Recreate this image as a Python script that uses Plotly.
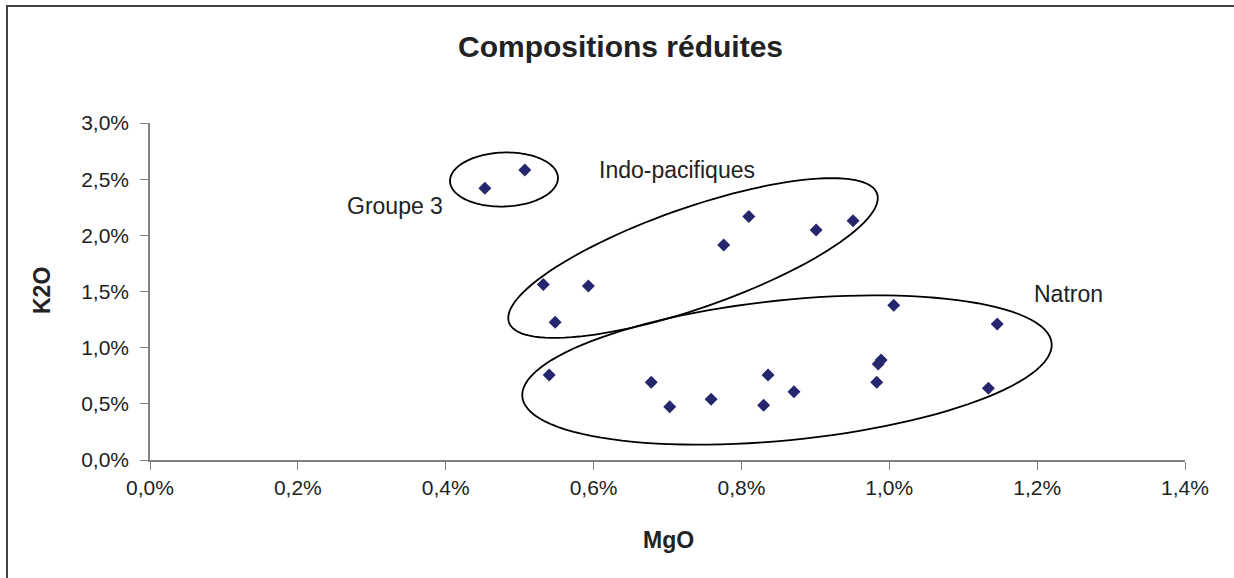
import numpy as np
import plotly.graph_objects as go

# Data (fractions; MgO vs K2O)
mgo = [0.00453, 0.00507, 0.00532, 0.00593, 0.00548, 0.00776, 0.00810, 0.00901, 0.00951,
       0.01006, 0.01146, 0.00540, 0.00678, 0.00703, 0.00759, 0.00836, 0.00830, 0.00871,
       0.00989, 0.00985, 0.00983, 0.01134]
k2o = [0.02419, 0.02582, 0.01562, 0.01549, 0.01227, 0.01914, 0.02168, 0.02048, 0.02130,
       0.01377, 0.01211, 0.00757, 0.00692, 0.00474, 0.00540, 0.00757, 0.00487, 0.00608,
       0.00890, 0.00855, 0.00692, 0.00638]
x_ticks = [0.0, 0.002, 0.004, 0.006, 0.008, 0.010, 0.012, 0.014]
y_ticks = [0.0, 0.005, 0.010, 0.015, 0.020, 0.025, 0.030]
group_labels = ["Groupe 3", "Indo-pacifiques", "Natron"]

W, H = 1234, 578
ML, MR, MT, MB = 150, 49, 123, 118
PW, PH = W - ML - MR, H - MT - MB
XR, YR = 0.014, 0.030
sx, sy = PW / XR, PH / YR  # px per unit

def ellipse_path(cx, cy, a, b, ang_deg, n=120):
    th = np.radians(ang_deg)
    t = np.linspace(0, 2 * np.pi, n)
    dx = a * np.cos(t) * np.cos(th) + b * np.sin(t) * np.sin(th)
    dy_up = a * np.cos(t) * np.sin(th) - b * np.sin(t) * np.cos(th)
    xs = cx + dx / sx
    ys = cy + dy_up / sy
    p = "M %f,%f " % (xs[0], ys[0]) + " ".join("L %f,%f" % (x, y) for x, y in zip(xs[1:], ys[1:])) + " Z"
    return p

# ellipse: center (data), semi-axes (px), angle (deg)
ellipses = [
    (0.004788, 0.02497, 54, 27, 2),
    (0.007345, 0.01798, 195, 50, 19.3),
    (0.008616, 0.00801, 266, 70, 5.8),
]

FONT = "Liberation Sans, Arial"

fig = go.Figure()
fig.add_trace(go.Scatter(
    x=mgo, y=k2o, mode="markers",
    marker=dict(symbol="diamond", size=10, color="#26266e"),
    showlegend=False, hoverinfo="x+y"))

for (cx, cy, a, b, ang) in ellipses:
    fig.add_shape(type="path", xref="x", yref="y", path=ellipse_path(cx, cy, a, b, ang),
                  line=dict(color="black", width=1.8))

label_pos = [(0.00331, 0.02261), (0.00713, 0.02582), (0.01243, 0.01478)]
for txt, (lx, ly) in zip(group_labels, label_pos):
    fig.add_annotation(x=lx, y=ly, xref="x", yref="y", text=txt, showarrow=False,
                       xanchor="center", yanchor="middle",
                       font=dict(family=FONT, size=23, color="#222"))

# frame around chart
fig.add_shape(type="rect", xref="paper", yref="paper",
              x0=(7 - ML) / PW, x1=1.2, y0=-0.6, y1=(H - MB - 6) / PH,
              line=dict(color="#404040", width=2))

# title and axis titles
fig.add_annotation(x=(620 - ML) / PW, y=(H - MB - 46) / PH, xref="paper", yref="paper",
                   text="<b>Compositions réduites</b>", showarrow=False,
                   xanchor="center", yanchor="middle",
                   font=dict(family=FONT, size=30, color="#222"))
fig.add_annotation(x=(42 - ML) / PW, y=(H - MB - 291) / PH, xref="paper", yref="paper",
                   text="<b>K2O</b>", showarrow=False, textangle=-90,
                   xanchor="center", yanchor="middle",
                   font=dict(family=FONT, size=23, color="#222"))
fig.add_annotation(x=(668 - ML) / PW, y=(H - MB - 540) / PH, xref="paper", yref="paper",
                   text="<b>MgO</b>", showarrow=False,
                   xanchor="center", yanchor="middle",
                   font=dict(family=FONT, size=23, color="#222"))

axis_common = dict(showgrid=False, zeroline=False, showline=True, linecolor="#808080",
                   linewidth=1.5, ticks="outside", ticklen=8, tickcolor="#808080",
                   tickformat=".1%",
                   tickfont=dict(family=FONT, size=21, color="#222"))
fig.update_xaxes(range=[0, XR], tickvals=x_ticks, **axis_common)
fig.update_yaxes(range=[0, YR], tickvals=y_ticks, ticklabelstandoff=7, **axis_common)

fig.update_layout(width=W, height=H, margin=dict(l=ML, r=MR, t=MT, b=MB),
                  paper_bgcolor="white", plot_bgcolor="white", separators=",.",
                  font=dict(family=FONT))

fig.write_html("out.html", config={"displayModeBar": False},
               post_script="document.body.style.margin='0';document.body.style.padding='0';")
